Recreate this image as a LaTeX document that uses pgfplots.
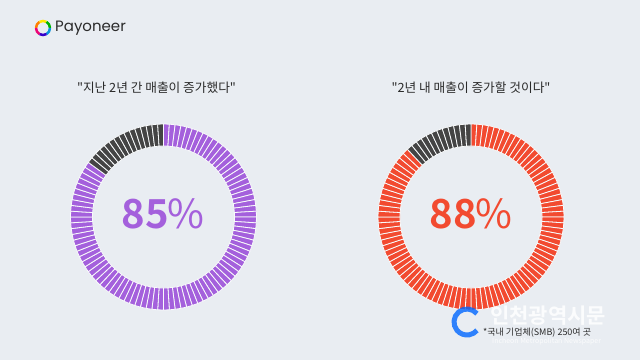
\documentclass[border=0pt]{standalone}
\usepackage{pgfplots}
\pgfplotsset{compat=1.18}
\usepackage{fontspec}
\setmainfont{Noto Sans CJK KR}
\newfontfamily\kr{Noto Sans CJK KR}
\newfontfamily\krb{Noto Sans CJK KR Bold}
\newfontfamily\pay{Poppins}
\definecolor{bg}{HTML}{E9EDF2}
\definecolor{segPurple}{HTML}{A460DC}
\definecolor{segRed}{HTML}{F24A30}
\definecolor{segGray}{HTML}{444444}
\definecolor{txt}{HTML}{2B2B2B}

% one ring of 100 segments; #1,#2 centre, #3 value (percent), #4 colour
\newcommand\donut[4]{%
  \pgfplotsforeachungrouped \i in {0,...,99}{%
    \pgfmathsetmacro\aa{90-3.6*\i}%
    \pgfmathsetmacro\ab{90-3.6*(\i+1)}%
    \pgfmathsetmacro\xa{#1+71*cos(\aa)}\pgfmathsetmacro\ya{#2+71*sin(\aa)}%
    \pgfmathsetmacro\xb{#1+71*cos(\ab)}\pgfmathsetmacro\yb{#2+71*sin(\ab)}%
    \pgfmathsetmacro\xc{#1+93*cos(\ab)}\pgfmathsetmacro\yc{#2+93*sin(\ab)}%
    \pgfmathsetmacro\xd{#1+93*cos(\aa)}\pgfmathsetmacro\yd{#2+93*sin(\aa)}%
    \ifnum\i<#3\relax\def\col{#4}\else\def\col{segGray}\fi
    \edef\tmp{\noexpand\addplot[fill=\col, draw=white!70!bg, line width=0.8pt]
      coordinates {(\xa,\ya) (\xb,\yb) (\xc,\yc) (\xd,\yd)} --cycle;}%
    \tmp
  }%
}

\begin{document}
\begin{tikzpicture}
\begin{axis}[
  scale only axis, width=640pt, height=360pt,
  xmin=0, xmax=640, ymin=0, ymax=360,
  hide axis, clip=false,
]
\fill[bg] (axis cs:0,0) rectangle (axis cs:640,360);

% data: 85% and 88%
\donut{163.5}{143}{85}{segPurple}
\donut{471}{143}{88}{segRed}

\node[text=segPurple, inner sep=0] at (axis cs:163,146) {\fontsize{40}{40}\selectfont\krb 85\kern-1pt\kr\%};
\node[text=segRed, inner sep=0] at (axis cs:471,146) {\fontsize{40}{40}\selectfont\krb 88\kern-1pt\kr\%};

\node[text=txt, inner sep=0] at (axis cs:156.5,272) {\fontsize{12.7}{12.7}\selectfont\kr "지난 2년 간 매출이 증가했다"};
\node[text=txt, inner sep=0] at (axis cs:471,272) {\fontsize{12.7}{12.7}\selectfont\kr "2년 내 매출이 증가할 것이다"};

% logo
\begin{scope}[line width=2.5pt]
\draw[orange] (axis cs:43,332) ++(180:7) arc (180:120:7);
\draw[yellow!90!orange] (axis cs:43,332) ++(120:7) arc (120:60:7);
\draw[green!70!black] (axis cs:43,332) ++(60:7) arc (60:0:7);
\draw[cyan!80!blue] (axis cs:43,332) ++(0:7) arc (0:-60:7);
\draw[blue!60!violet] (axis cs:43,332) ++(-60:7) arc (-60:-120:7);
\draw[magenta!80!red] (axis cs:43,332) ++(-120:7) arc (-120:-180:7);
\end{scope}
\node[anchor=west, text=txt, inner sep=0] at (axis cs:55,332) {\fontsize{15}{15}\selectfont\pay Payoneer};

% watermark and footnote
\draw[blue!60!cyan, line width=5pt, opacity=0.8] (axis cs:467,38) ++(40:13) arc (40:320:13);
\node[anchor=west, text=white, opacity=0.85, inner sep=0] at (axis cs:490,44) {\fontsize{21}{21}\selectfont\krb 인천광역시문};
\node[anchor=west, text=white, opacity=0.8, inner sep=0] at (axis cs:492,18) {\fontsize{7}{7}\selectfont\kr Incheon Metropolitan Newspaper};
\node[anchor=west, text=txt, inner sep=0] at (axis cs:483,27) {\fontsize{9}{9}\selectfont\kr *국내 기업체(SMB) 250여 곳};
\end{axis}
\end{tikzpicture}
\end{document}
